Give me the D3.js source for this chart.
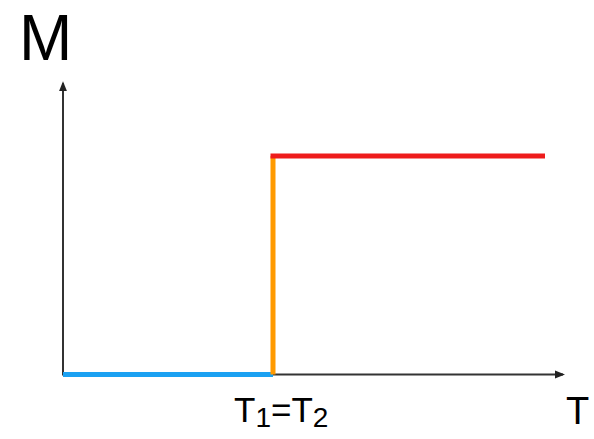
<!DOCTYPE html>
<html><head><meta charset="utf-8">
<script src="https://cdn.jsdelivr.net/npm/d3@7"></script>
<style>html,body{margin:0;padding:0;background:#fff;}svg{display:block;font-family:"Liberation Sans",Arial,Helvetica,sans-serif;}</style>
</head><body>
<script>
// Data (T in arbitrary units, M in arbitrary units)
const T1 = 42;
const Tmax = 95.9;
const Mhigh = 75;
const blueSeg = [[0, 0], [T1, 0]];
const orangeSeg = [[T1, 0], [T1, Mhigh]];
const redSeg = [[T1, Mhigh], [Tmax, Mhigh]];
const segColors = ["#1ba1f2", "#ff9a00", "#ee1c1c"];
const axisLabels = {x: "T", y: "M"};

const W = 594, H = 439;
const svg = d3.select("body").append("svg").attr("width", W).attr("height", H);
const x = d3.scaleLinear().domain([0, 100]).range([63, 563]);
const y = d3.scaleLinear().domain([0, 100]).range([374.5, 83.2]);

const defs = svg.append("defs");
defs.append("marker").attr("id", "arr").attr("viewBox", "0 0 10 10")
  .attr("refX", 8).attr("refY", 5).attr("markerWidth", 10).attr("markerHeight", 10)
  .attr("markerUnits", "userSpaceOnUse").attr("orient", "auto")
  .append("path").attr("d", "M0,1 L10,5 L0,9 Z").attr("fill", "#222");

// axes
svg.append("line").attr("x1", x(0)).attr("y1", y(0)).attr("x2", x(100)).attr("y2", y(0))
  .attr("stroke", "#333").attr("stroke-width", 2).attr("marker-end", "url(#arr)");
svg.append("line").attr("x1", x(0)).attr("y1", y(0)+1).attr("x2", x(0)).attr("y2", y(100))
  .attr("stroke", "#333").attr("stroke-width", 2).attr("marker-end", "url(#arr)");

const line = d3.line().x(d => x(d[0])).y(d => y(d[1]));
[blueSeg, orangeSeg, redSeg].forEach((seg, i) => {
  svg.append("path").attr("d", line(seg)).attr("fill", "none")
    .attr("stroke", segColors[i]).attr("stroke-width", 5)
    .attr("stroke-linecap", i === 2 ? "square" : "butt");
});

// labels
svg.append("text").attr("x", 19).attr("y", 60).attr("font-size", 64).text(axisLabels.y);
svg.append("text").attr("x", 566).attr("y", 424).attr("font-size", 38).text(axisLabels.x);
const tl = svg.append("text").attr("x", 234).attr("y", 422).attr("font-size", 35);
tl.append("tspan").text("T");
tl.append("tspan").attr("font-size", 28).attr("dy", 5).text("1");
tl.append("tspan").attr("dy", -5).text("=T");
tl.append("tspan").attr("font-size", 28).attr("dy", 5).text("2");
</script>
</body></html>
